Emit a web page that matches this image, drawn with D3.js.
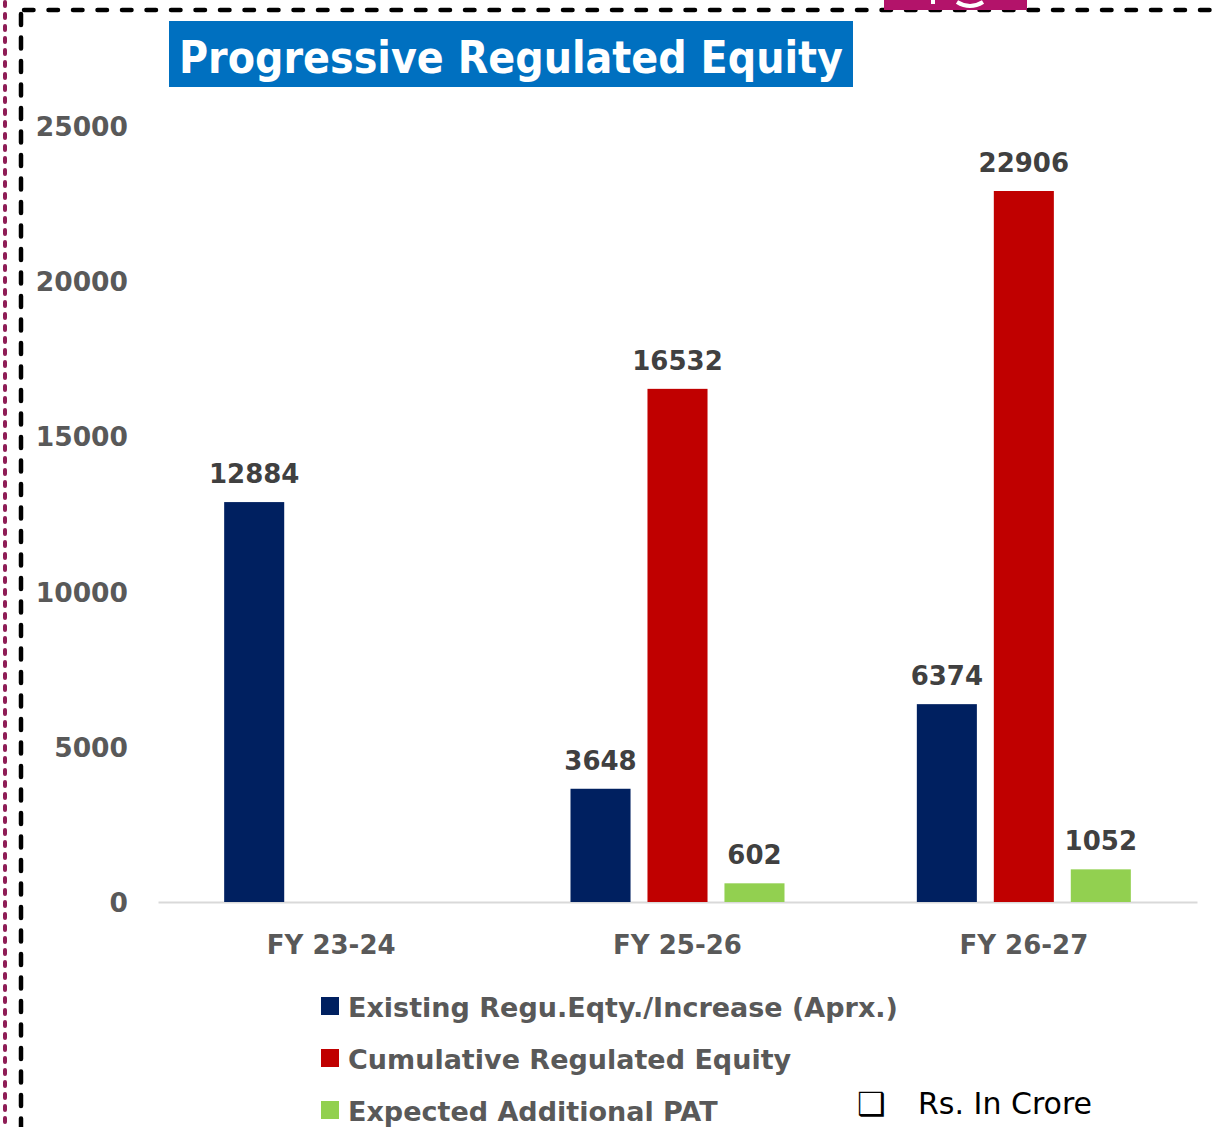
<!DOCTYPE html>
<html><head><meta charset="utf-8">
<script src="https://cdn.jsdelivr.net/npm/d3@7"></script>
<style>body{margin:0;background:#fff}svg{display:block}</style>
</head><body>
<svg id="c" width="1221" height="1127"></svg>
<script>
const categories = ["FY 23-24", "FY 25-26", "FY 26-27"];
const seriesNames = ["Existing Regu.Eqty./Increase (Aprx.)", "Cumulative Regulated Equity", "Expected Additional PAT"];
const existing = [12884, 3648, 6374];
const cumulative = [null, 16532, 22906];
const pat = [null, 602, 1052];
const yTicks = [0, 5000, 10000, 15000, 20000, 25000];
const colors = ["#002060", "#C00000", "#92D050"];
const title = "Progressive Regulated Equity";
const unitNote = "Rs. In Crore";

const svg = d3.select("#c");
const font = "'Century Gothic', 'DejaVu Sans', sans-serif";

// borders
svg.append("line").attr("x1", 5).attr("x2", 5).attr("y1", 2).attr("y2", 1127)
  .attr("stroke", "#8E1C55").attr("stroke-width", 4).attr("stroke-dasharray", "4,8").attr("stroke-linecap", "round");
svg.append("line").attr("x1", 21).attr("x2", 21).attr("y1", 14).attr("y2", 1127)
  .attr("stroke", "#000").attr("stroke-width", 4.5).attr("stroke-dasharray", "11,12.5").attr("stroke-linecap", "round");
svg.append("line").attr("x1", 24).attr("x2", 1221).attr("y1", 10).attr("y2", 10)
  .attr("stroke", "#000").attr("stroke-width", 4.5).attr("stroke-dasharray", "9.5,15").attr("stroke-linecap", "round");
// magenta tab at top
svg.append("rect").attr("x", 884).attr("y", 0).attr("width", 143).attr("height", 10).attr("fill", "#B3136A");
svg.append("path").attr("d", "M933,0 L933,4 M957,2 Q970,10 983,2").attr("stroke", "#fff").attr("stroke-width", 4).attr("fill", "none");

// title
svg.append("rect").attr("x", 169).attr("y", 21).attr("width", 684).attr("height", 66).attr("fill", "#0070C0");
svg.append("text").attr("x", 179).attr("y", 73).text(title)
  .attr("fill", "#fff").attr("font-family", font).attr("font-weight", "bold").attr("font-size", 44)
  .attr("textLength", 664).attr("lengthAdjust", "spacingAndGlyphs");

const x = d3.scaleBand().domain(categories).range([158, 1197]);
const y = d3.scaleLinear().domain([0, 25000]).range([902, 126]);
const slot = d3.scaleBand().domain(d3.range(3)).range([-107, 107]).paddingInner(0.22).paddingOuter(0);

// y axis labels
const yAxis = d3.axisLeft(y).tickValues(yTicks).tickSize(0).tickPadding(0).tickFormat(d3.format("d"));
const ya = svg.append("g").attr("transform", "translate(128,0)").call(yAxis);
ya.select(".domain").remove();
ya.selectAll("text").attr("fill", "#595959").attr("font-family", font).attr("font-weight", "bold")
  .attr("font-size", 26.5).attr("dy", "0.36em");

// x axis
const xAxis = d3.axisBottom(x).tickSize(0).tickPadding(0);
const xa = svg.append("g").attr("transform", "translate(0,902)").call(xAxis);
xa.select(".domain").attr("stroke", "#D9D9D9").attr("stroke-width", 2);
xa.selectAll("text").attr("fill", "#595959").attr("font-family", font).attr("font-weight", "bold")
  .attr("font-size", 26).attr("dy", 0).attr("y", 52);

const series = [existing, cumulative, pat];
series.forEach((vals, si) => {
  const g = svg.append("g");
  const data = categories.map((c, i) => ({c, v: vals[i]})).filter(d => d.v != null);
  g.selectAll("rect").data(data).join("rect")
    .attr("x", d => x(d.c) + x.bandwidth() / 2 + slot(si))
    .attr("width", slot.bandwidth())
    .attr("y", d => y(d.v)).attr("height", d => y(0) - y(d.v))
    .attr("fill", colors[si]);
  g.selectAll("text").data(data).join("text")
    .attr("x", d => x(d.c) + x.bandwidth() / 2 + slot(si) + slot.bandwidth() / 2)
    .attr("y", d => y(d.v) - 19)
    .attr("text-anchor", "middle").text(d => d.v)
    .attr("fill", "#404040").attr("font-family", font).attr("font-weight", "bold").attr("font-size", 26);
});

// legend
const lg = svg.append("g");
seriesNames.forEach((n, i) => {
  const yy = 1006 + i * 52;
  lg.append("rect").attr("x", 321).attr("y", yy - 9).attr("width", 18).attr("height", 18).attr("fill", colors[i]);
  lg.append("text").attr("x", 348).attr("y", yy + 11).text(n)
    .attr("fill", "#595959").attr("font-family", font).attr("font-weight", "bold").attr("font-size", 27);
});
// unit note
svg.append("text").attr("x", 857).attr("y", 1115).text("❑")
  .attr("font-family", "DejaVu Sans").attr("font-size", 32).attr("fill", "#000");
svg.append("text").attr("x", 918).attr("y", 1114).text(unitNote)
  .attr("font-family", font).attr("font-size", 30).attr("fill", "#000");
</script>
</body></html>
